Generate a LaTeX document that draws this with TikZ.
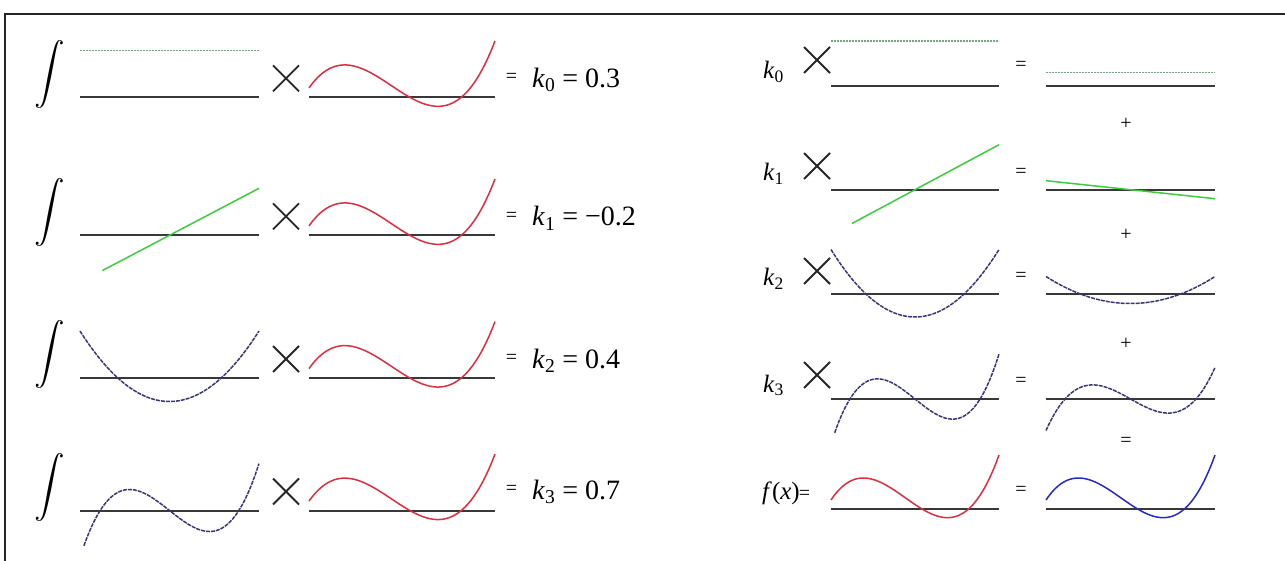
\documentclass[tikz,border=0pt]{standalone}
\usepackage{fontspec}
\setmainfont{Liberation Serif}
\begin{document}
\begin{tikzpicture}[x=1pt,y=-1pt,
  declare function={
    Pone(\t)=\t;
    Ptwo(\t)=(3*\t*\t-1)/2;
    Pthree(\t)=(5*\t*\t*\t-3*\t)/2;
    fsum(\t)=0.1-1.25*\t+0.6*\t*\t+1.75*\t*\t*\t;},
  axisline/.style={line width=2pt,draw=black!78},
  redc/.style={line width=1.5pt,draw={rgb,255:red,220;green,45;blue,65}},
  greenc/.style={line width=1.5pt,draw={rgb,255:red,60;green,205;blue,60}},
  greendash/.style={line width=1.2pt,draw={rgb,255:red,120;green,165;blue,135},dash pattern=on 2pt off 1pt},
  navyc/.style={line width=1.5pt,draw={rgb,255:red,55;green,55;blue,120},dash pattern=on 4pt off 1pt},
  bluec/.style={line width=1.5pt,draw={rgb,255:red,40;green,40;blue,205}},
  crossmark/.style={line width=1.8pt,draw=black!85},
  frameline/.style={line width=2pt,draw=black!85},
  bigtxt/.style={inner sep=0pt,font=\fontsize{28}{30}\selectfont},
  midtxt/.style={inner sep=0pt,font=\fontsize{25}{27}\selectfont},
  smalltxt/.style={inner sep=0pt,font=\fontsize{20}{22}\selectfont},
  inttxt/.style={inner sep=0pt}]
\useasboundingbox (0,0) rectangle (1285,561);
% frame
\draw[frameline] (5,561) -- (5,14) -- (1285,14);

% ---------- left column ----------
\foreach \ay/\i in {97.3/a,235.3/b,378/c,510.5/d}{
  \draw[axisline] (80,\ay) -- (259,\ay);
  \draw[axisline] (309,\ay) -- (495,\ay);
  \draw[redc] plot[domain=-1:1,samples=80,smooth,variable=\t] ({402+93*\t},{\ay-47*fsum(\t)});
  \node[inttxt] (int\i) at (50,\ay-23) {\resizebox*{!}{68pt}{$\displaystyle\int$}};
  \draw[crossmark] (273,\ay-32) -- (299,\ay-6) (273,\ay-6) -- (299,\ay-32);
}
\draw[greendash] (80,50.3) -- (259,50.3);
\draw[greenc] plot[domain=-0.75:1,samples=2,variable=\t] ({169.5+89.5*\t},{235.3-47*Pone(\t)});
\draw[navyc] plot[domain=-1:1,samples=80,smooth,variable=\t] ({169.5+89.5*\t},{378-47*Ptwo(\t)});
\draw[navyc] plot[domain=-0.956:1,samples=80,smooth,variable=\t] ({169.5+89.5*\t},{510.5-47*Pthree(\t)});

\node[smalltxt] (eqa) at (511.5,78) {=};
\node[smalltxt] (eqb) at (511.5,217) {=};
\node[smalltxt] (eqc) at (511.5,359) {=};
\node[smalltxt] (eqd) at (511.5,490) {=};
\node[bigtxt,anchor=base west] (ka) at (532,87.3) {\textit{k}\textsubscript{0} = 0.3};
\node[bigtxt,anchor=base west] (kb) at (532,226) {\textit{k}\textsubscript{1} = −0.2};
\node[bigtxt,anchor=base west] (kc) at (532,368) {\textit{k}\textsubscript{2} = 0.4};
\node[bigtxt,anchor=base west] (kd) at (532,499) {\textit{k}\textsubscript{3} = 0.7};

% ---------- right column ----------
\foreach \ay in {85.7,189.7,294.5,399,509}{
  \draw[axisline] (831,\ay) -- (999,\ay);
  \draw[axisline] (1046,\ay) -- (1215,\ay);
}
% crosses
\foreach \cy in {60,166,271,375}{
  \draw[crossmark] (804,\cy-13) -- (830,\cy+13) (804,\cy+13) -- (830,\cy-13);
}
% k0 row
\draw[greendash] (831,41) -- (999,41);
\draw[greendash] (1046,72.2) -- (1215,72.2);
% k1 row
\draw[greenc] plot[domain=-0.75:1,samples=2,variable=\t] ({915+84*\t},{189.7-45*Pone(\t)});
\draw[greenc] plot[domain=-1:1,samples=2,variable=\t] ({1130.5+84.5*\t},{189.7+0.2*45*Pone(\t)});
% k2 row
\draw[navyc] plot[domain=-1:1,samples=80,smooth,variable=\t] ({915+84*\t},{294.5-45*Ptwo(\t)});
\draw[navyc] plot[domain=-1:1,samples=80,smooth,variable=\t] ({1130.5+84.5*\t},{294.5-0.4*45*Ptwo(\t)});
% k3 row
\draw[navyc] plot[domain=-0.956:1,samples=80,smooth,variable=\t] ({915+84*\t},{399-45*Pthree(\t)});
\draw[navyc] plot[domain=-1:1,samples=80,smooth,variable=\t] ({1130.5+84.5*\t},{399-0.7*45*Pthree(\t)});
% f row
\draw[redc] plot[domain=-1:1,samples=80,smooth,variable=\t] ({915+84*\t},{509-45*fsum(\t)});
\draw[bluec] plot[domain=-1:1,samples=80,smooth,variable=\t] ({1130.5+84.5*\t},{509-45*fsum(\t)});

% labels
\node[midtxt,anchor=base west] (rk0) at (763,79) {\textit{k}\textsubscript{0}};
\node[midtxt,anchor=base west] (rk1) at (763,181) {\textit{k}\textsubscript{1}};
\node[midtxt,anchor=base west] (rk2) at (763,286) {\textit{k}\textsubscript{2}};
\node[midtxt,anchor=base west] (rk3) at (763,392) {\textit{k}\textsubscript{3}};
\node[midtxt,anchor=base west] (rf) at (762,499) {\textit{f}(\textit{x})\hspace{-1pt}{\fontsize{20}{22}\selectfont =}};

% middle equals
\foreach \cy/\n in {66/a,172.5/b,277/c,381.5/d,490.5/e}{
  \node[smalltxt] (meq\n) at (1021,\cy) {=};
}
% plus / equals between right plots
\node[smalltxt] (pa) at (1126,124) {+};
\node[smalltxt] (pb) at (1126,235) {+};
\node[smalltxt] (pc) at (1126,344) {+};
\node[smalltxt] (peq) at (1126,442) {=};
\end{tikzpicture}
\end{document}
